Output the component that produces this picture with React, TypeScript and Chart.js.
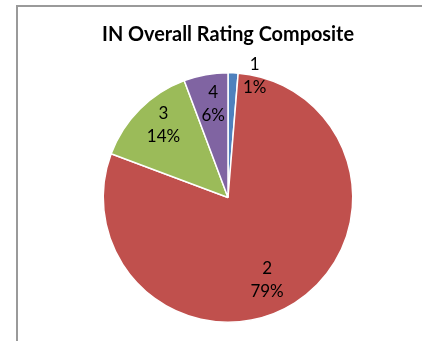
import React, { useEffect, useRef } from "react";
import { Chart, registerables } from "chart.js";

Chart.register(...registerables);

const chartTitle = "IN Overall Rating Composite";
const categories = ["1", "2", "3", "4"];
const values = [1.3, 79.4, 13.6, 5.7];
const colors = ["#4F81BD", "#C0504D", "#9BBB59", "#8064A2"];

// label placement styling (radius fraction, angle nudge in degrees)
const labelRadius = [1.0, 0.73, 0.78, 0.755];
const labelNudge = [10, 7, 3.5, 1.2];

const labelPlugin = {
  id: "sliceLabels",
  afterDatasetsDraw(chart: any) {
    const meta = chart.getDatasetMeta(0);
    const data = chart.data.datasets[0].data as number[];
    const total = data.reduce((a, b) => a + b, 0);
    const ctx = chart.ctx;
    ctx.save();
    ctx.font = "17px Lato";
    ctx.fillStyle = "#000";
    ctx.textAlign = "center";
    ctx.textBaseline = "middle";
    meta.data.forEach((arc: any, i: number) => {
      const p = arc.getProps(["x", "y", "startAngle", "endAngle", "outerRadius"], true);
      const mid = (p.startAngle + p.endAngle) / 2 + (labelNudge[i] * Math.PI) / 180;
      const r = p.outerRadius * labelRadius[i];
      const cx = p.x + Math.cos(mid) * r;
      const cy = p.y + Math.sin(mid) * r;
      const pct = Math.round((data[i] / total) * 100) + "%";
      ctx.fillText(chart.data.labels[i], cx, cy - 11.5);
      ctx.fillText(pct, cx, cy + 11.5);
    });
    ctx.restore();
  },
};

export default function App() {
  const ref = useRef<HTMLCanvasElement>(null);
  useEffect(() => {
    if (!ref.current) return;
    const chart = new Chart(ref.current, {
      type: "pie",
      data: {
        labels: categories,
        datasets: [
          {
            data: values,
            backgroundColor: colors,
            borderColor: "#ffffff",
            borderWidth: 1.5,
          },
        ],
      },
      options: {
        responsive: false,
        animation: false,
        layout: { padding: { top: 0, left: 102, right: 68, bottom: 18 } },
        plugins: {
          legend: { display: false },
          tooltip: { enabled: false },
          title: {
            display: true,
            text: chartTitle,
            color: "#000",
            font: { family: "Lato", size: 20, weight: "bold" },
            padding: { top: 23, bottom: 25 },
          },
        },
      },
      plugins: [labelPlugin],
    });
    return () => chart.destroy();
  }, []);
  return (
    <div style={{ position: "fixed", left: 0, top: 0, width: 422, height: 341, background: "#fff" }}>
      <div
        style={{
          position: "absolute",
          left: 16,
          top: 5,
          width: 420,
          height: 350,
          borderTop: "2px solid #9a9a9a",
          borderLeft: "2px solid #9a9a9a",
        }}
      />
      <canvas ref={ref} width={422} height={341} style={{ position: "absolute", left: 0, top: 0 }} />
    </div>
  );
}
